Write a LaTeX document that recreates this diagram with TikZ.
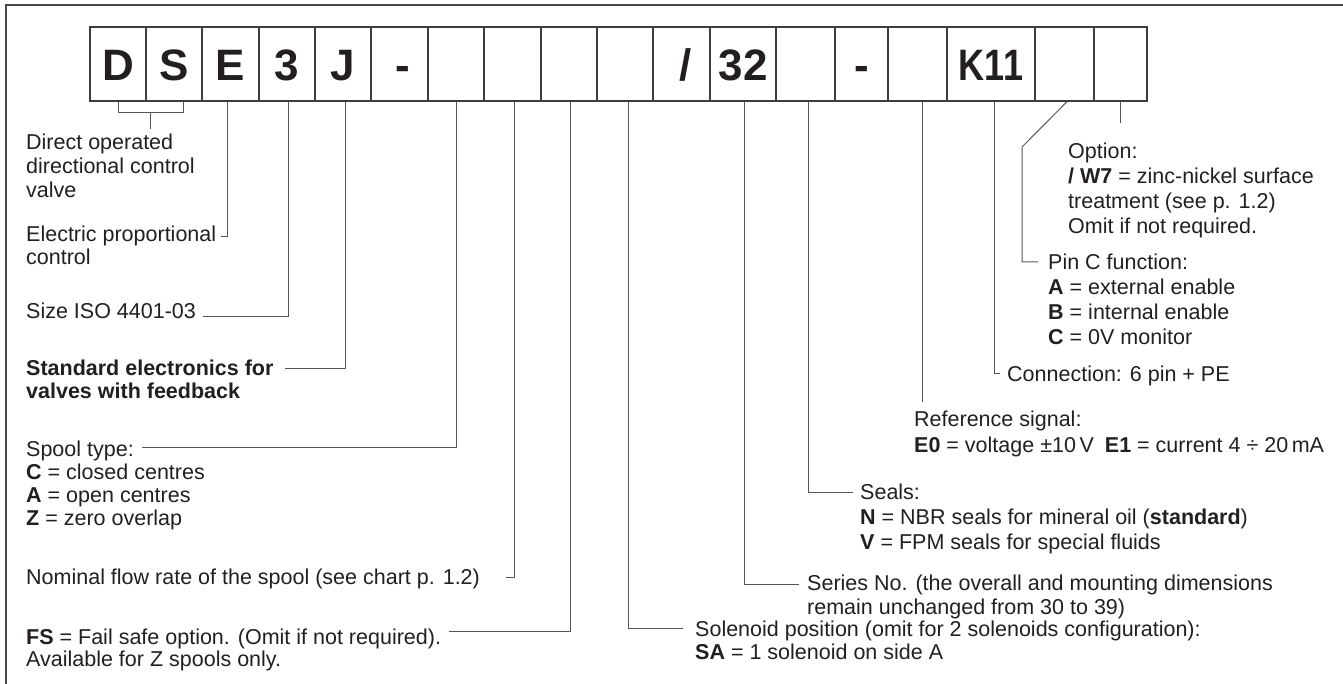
\documentclass[tikz,border=0pt]{standalone}
\usepackage{fontspec}
\setmainfont{Liberation Sans}
\definecolor{ink}{HTML}{231F20}
\definecolor{boxc}{HTML}{3C3C3C}
\definecolor{leadc}{HTML}{555555}
\definecolor{framec}{HTML}{4A4A4A}
\newcommand\mlines[1]{\vtop{\halign{##\hfil\cr#1\crcr}}}
\begin{document}
\begin{tikzpicture}[x=1pt,y=-1pt,
  cell/.style={draw=boxc, line width=1.3pt, minimum height=74pt, inner sep=0pt,
    text height=34pt, text depth=0pt, font=\fontsize{44}{44}\selectfont\bfseries, text=ink},
  lbl/.style={anchor=base west, inner sep=0pt, text=ink, font=\fontsize{21.5}{24}\selectfont},
  lead/.style={draw=leadc, line width=1pt}]
\useasboundingbox (0,0) rectangle (1343,684);
% frame
\draw[framec, line width=1.5pt] (6,684) -- (6,5) -- (1343,5);
% code boxes
\node[cell, minimum width=56pt] (b1) at (118,64) {D};
\node[cell, minimum width=56pt] (b2) at (174,64) {S};
\node[cell, minimum width=57pt] (b3) at (230.5,64) {E};
\node[cell, minimum width=56pt] (b4) at (287,64) {3};
\node[cell, minimum width=56pt] (b5) at (343,64) {J};
\node[cell, minimum width=57pt] (b6) at (399.5,64) {\hspace*{6pt}-};
\node[cell, minimum width=56pt] (b7) at (456,64) {};
\node[cell, minimum width=57pt] (b8) at (512.5,64) {};
\node[cell, minimum width=56pt] (b9) at (569,64) {};
\node[cell, minimum width=56pt] (b10) at (625,64) {};
\node[cell, minimum width=57pt] (b11) at (681.5,64) {\hspace*{9pt}/};
\node[cell, minimum width=66pt] (b12) at (743,64) {32};
\node[cell, minimum width=59pt] (b13) at (805.5,64) {};
\node[cell, minimum width=53pt] (b14) at (861.5,64) {-};
\node[cell, minimum width=59pt] (b15) at (917.5,64) {};
\node[cell, minimum width=88pt] (b16) at (991,64) {\scalebox{0.82}[1]{K11}};
\node[cell, minimum width=59pt] (b17) at (1064.5,64) {};
\node[cell, minimum width=53pt] (b18) at (1120.5,64) {};
% left labels
\node[lbl] (L1) at (26,149.5) {\mlines{Direct operated\cr directional control\cr valve}};
\node[lbl, font=\fontsize{21.5}{23}\selectfont] (L2) at (26,242) {\mlines{Electric proportional\cr control}};
\node[lbl] (L3) at (26,319) {Size ISO 4401-03};
\node[lbl, font=\fontsize{21.5}{23.5}\selectfont\bfseries] (L4) at (26,375) {\mlines{Standard electronics for\cr valves with feedback}};
\node[lbl, font=\fontsize{21.5}{23}\selectfont] (L5) at (26,456) {\mlines{Spool type:\cr \textbf{C} = closed centres\cr \textbf{A} = open centres\cr \textbf{Z} = zero overlap}};
\node[lbl] (L6) at (26,584) {Nominal flow rate of the spool (see chart p. 1.2)};
\node[lbl, font=\fontsize{21.5}{22}\selectfont] (L7) at (26,644) {\mlines{\textbf{FS} = Fail safe option. (Omit if not required).\cr Available for Z spools only.}};
% right labels
\node[lbl, font=\fontsize{21.5}{25}\selectfont] (R1) at (1068,159) {\mlines{Option:\cr \textbf{/ W7} = zinc-nickel surface\cr treatment (see p. 1.2)\cr Omit if not required.}};
\node[lbl, font=\fontsize{21.5}{25}\selectfont] (R2) at (1048,270) {\mlines{Pin C function:\cr \textbf{A} = external enable\cr \textbf{B} = internal enable\cr \textbf{C} = 0V monitor}};
\node[lbl] (R3) at (1007,381) {Connection: 6 pin + PE};
\node[lbl, font=\fontsize{21.5}{26}\selectfont] (R4) at (914,426) {\mlines{Reference signal:\cr \textbf{E0} = voltage ±10\,V\hspace{11pt}\textbf{E1} = current 4 ÷ 20\,mA}};
\node[lbl, font=\fontsize{21.5}{25}\selectfont] (R5) at (860,499) {\mlines{Seals:\cr \textbf{N} = NBR seals for mineral oil (\textbf{standard})\cr \textbf{V} = FPM seals for special fluids}};
\node[lbl, font=\fontsize{21.5}{24}\selectfont] (R6) at (807,590) {\mlines{Series No. (the overall and mounting dimensions\cr remain unchanged from 30 to 39)}};
\node[lbl, font=\fontsize{21.5}{23}\selectfont] (R7) at (695,636) {\mlines{Solenoid position (omit for 2 solenoids configuration):\cr \textbf{SA} = 1 solenoid on side A}};
% hook end points
\coordinate (hE) at (220.5,237);
\coordinate (h4) at (203,317);
\coordinate (h5) at (285,368);
\coordinate (h7) at (142,447);
\coordinate (h8) at (506,577);
\coordinate (h9) at (449,631);
\coordinate (h10) at (683,628);
\coordinate (h12) at (799,584);
\coordinate (h13) at (853,492);
\coordinate (h15) at (922,402);
\coordinate (h16) at (1000,373);
\coordinate (k17) at (1022,147);
\coordinate (h17) at (1038,262);
% leaders
\draw[lead] (b1.south) -- ++(0,11) -| ([xshift=9pt]b2.south);
\draw[lead] ([xshift=32.5pt,yshift=-11pt]b1.south) -- ++(0,16);
\draw[lead] ([xshift=-3.5pt]b3.south) |- (hE);
\draw[lead] ([xshift=1pt]b4.south) |- (h4);
\draw[lead] ([xshift=2pt]b5.south) |- (h5);
\draw[lead] (b7.south) |- (h7);
\draw[lead] ([xshift=1.5pt]b8.south) |- (h8);
\draw[lead] ([xshift=1pt]b9.south) |- (h9);
\draw[lead] ([xshift=3pt]b10.south) |- (h10);
\draw[lead] ([xshift=1pt]b12.south) |- (h12);
\draw[lead] ([xshift=2.5pt]b13.south) |- (h13);
\draw[lead] ([xshift=4.5pt]b15.south) |- (h15);
\draw[lead] ([xshift=3pt]b16.south) |- (h16);
\draw[lead] ([xshift=2.5pt]b17.south) -- (k17) |- (h17);
\draw[lead] (b18.south) -- ++(0,21);
\end{tikzpicture}
\end{document}
